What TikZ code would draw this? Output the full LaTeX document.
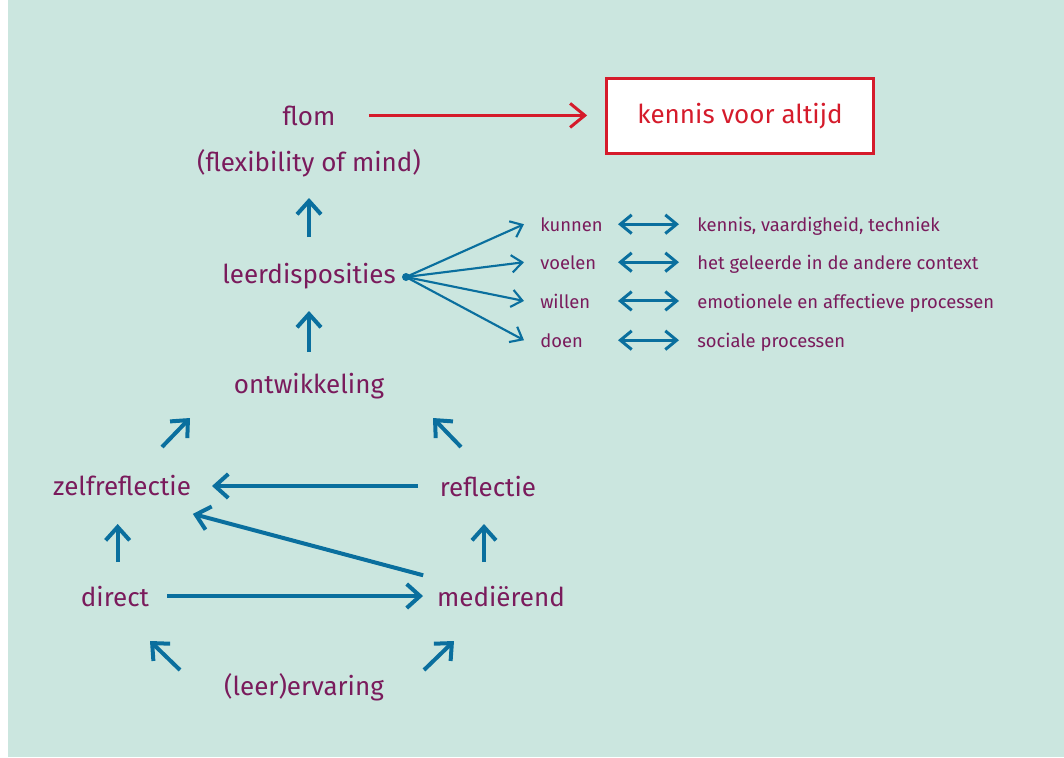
\documentclass[tikz,border=0pt]{standalone}
\usepackage{fontspec}
\setmainfont{Fira Sans}
\usepackage{xcolor}
\usetikzlibrary{arrows.meta}
\usetikzlibrary{positioning}
\definecolor{mint}{HTML}{CBE6DF}
\definecolor{plum}{HTML}{7A1B5C}
\definecolor{petrol}{HTML}{0A6F9E}
\definecolor{signal}{HTML}{D51B2B}

\begin{document}
\begin{tikzpicture}[x=0.75pt,y=-0.75pt,
		lbl/.style={text=plum,font=\fontsize{19.5}{23}\selectfont,inner sep=0pt,anchor=base},
		sml/.style={text=plum,font=\fontsize{13.8}{16}\selectfont,inner sep=0pt,anchor=base west},
		flow/.style={draw=petrol,line width=3pt,-{Straight Barb[length=10pt,width=18pt]}},
		fan/.style={draw=petrol,line width=1.6pt,-{Straight Barb[length=8pt,width=13pt]}},
		twoway/.style={draw=petrol,line width=2.25pt,{Straight Barb[length=8.5pt,width=14pt]}-{Straight Barb[length=8.5pt,width=14pt]}},
		hot/.style={draw=signal,line width=2.25pt,-{Straight Barb[length=11pt,width=18pt]}}]
		  \useasboundingbox (0,0) rectangle (1064,757);
		  \fill[white] (0,0) rectangle (1064,757);
		  \fill[mint] (8,0) rectangle (1064,757);
		  \node[lbl] (flom) at (309,125) {flom};
		  \node[lbl] (flex) at (309,171) {(flexibility of mind)};
		  \node[lbl] (leer) at (309,283) {leerdisposities};
		  \node[lbl] (ontw) at (309,393) {ontwikkeling};
		  \node[lbl] (zelf) at (122,495) {zelfreflectie};
		  \node[lbl] (refl) at (488,496) {reflectie};
		  \node[lbl] (direct) at (115,606) {direct};
		  \node[lbl] (medi) at (501,606) {mediërend};
		  \node[lbl] (erv) at (304,695) {(leer)ervaring};
		  \node[draw=signal,line width=2.3pt,fill=white,text=signal,inner sep=0pt,
		  	font=\fontsize{19.5}{23}\selectfont,minimum width=200pt,minimum height=56pt] (kennis) at (740,116) {kennis voor altijd};
		  \node[circle,fill=petrol,inner sep=0pt,minimum size=6pt] (hub) at (406,277) {};
		  \draw[hot,shorten <=25pt,shorten >=13.5pt] (flom.east) -- (flom.east -| kennis.west);
		  \draw[flow,shorten <=34.5pt,shorten >=20.25pt] (leer.base) -- (flex.base);
		  \draw[flow,shorten <=30.75pt,shorten >=21pt] (ontw.base) -- (leer.base);
		  \draw[flow,shorten <=52.5pt,shorten >=67.5pt] (refl.center) -- (refl.center -| zelf.center);
		  \draw[flow,shorten <=39pt,shorten >=58.5pt] (direct.center) -- (direct.center -| medi.center);
		  \draw[flow,shorten <=60.4pt,shorten >=55pt] (medi.center) -- (zelf.base);
		  \draw[flow,shorten <=33pt,shorten >=21.75pt] ([xshift=2pt]direct.base) -- ([xshift=2pt]direct.base |- zelf.base);
		  \draw[flow,shorten <=33pt,shorten >=21pt] ([xshift=-3pt]refl.base |- medi.base) -- ([xshift=-3pt]refl.base);
		  \coordinate (z1) at (162,447); \coordinate (z2) at (190,418);
		  \coordinate (r1) at (461,447); \coordinate (r2) at (433,418);
		  \coordinate (d1) at (180,670); \coordinate (d2) at (150,641);
		  \coordinate (m1) at (424,670); \coordinate (m2) at (454,641);
		  \foreach \a/\b in {z1/z2,r1/r2,d1/d2,m1/m2}
		  {
		  	\draw[flow] (\a) -- (\b);
		  }
		  \foreach \n/\w/\y/\r/\t in {
		  		ku/kunnen/231/kut/{kennis, vaardigheid, techniek},
		  		vo/voelen/269/vot/{het geleerde in de andere context},
		  		wi/willen/308/wit/{emotionele en affectieve processen},
		  		do/doen/347/dot/{sociale processen}
		  }{
		  	\node[sml] (\n) at (540,\y) {\w};
		  	\node[sml] (\r) at (697,\y) {\t};
		  	\draw[fan] (hub.center) -- ([xshift=-12pt]\n.west);
		  	\draw[twoway,shorten <=58.5pt,shorten >=13.5pt] (\n.west) -- (\n.west -| \r.west);
		  }
		 \end{tikzpicture}
\end{document}
